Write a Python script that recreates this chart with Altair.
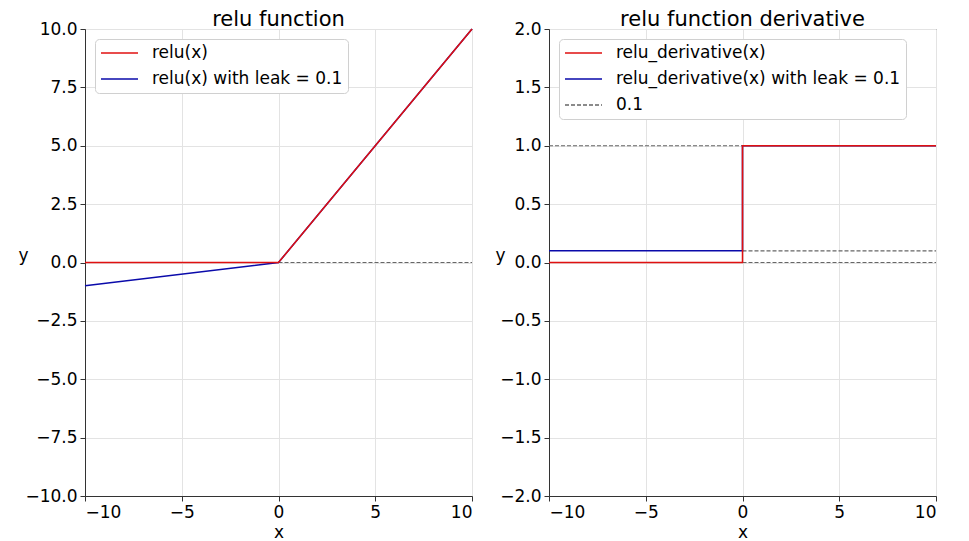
import altair as alt
import pandas as pd

# ---- data ----
x_pts = [-10, 0, 10]
relu_y = [0, 0, 10]
leaky_y = [-1, 0, 10]

dx_pts = [-10, 0, 0, 10]
drelu_y = [0, 0, 1, 1]
dleaky_y = [0.1, 0.1, 1, 1]

# dashed reference lines: level, x start, x end
left_levels = [0]
left_level_x0 = [0]
left_level_x1 = [10]
right_levels = [1, 0.1, 0]
right_level_x0 = [-10, 0, 0]
right_level_x1 = [0, 10, 10]

left_names = ["relu(x)", "relu(x) with leak = 0.1"]
right_names = ["relu_derivative(x)", "relu_derivative(x) with leak = 0.1", "0.1"]

x_ticks = [-10, -5, 0, 5, 10]
left_y_ticks = [-10, -7.5, -5, -2.5, 0, 2.5, 5, 7.5, 10]
right_y_ticks = [-2, -1.5, -1, -0.5, 0, 0.5, 1, 1.5, 2]

RED = "#e01010"
BLUE = "#0a0aaa"
GRAY = "#666666"
FONT = "DejaVu Sans"
LW = 1.5

W, H = 387, 467


def make_legend():
    return alt.Legend(
        title=None, orient="top-left", offset=10, fillColor="white",
        strokeColor="#d0d0d0", cornerRadius=4, padding=5,
        labelFontSize=17, labelFont=FONT, labelColor="black", labelLimit=500,
        symbolType="stroke", symbolSize=1369, symbolStrokeWidth=1.6,
        clipHeight=18, rowPadding=8, labelOffset=13,
    )


xscale = alt.Scale(domain=[-10, 10], nice=False)
xenc = alt.X("x:Q", scale=xscale,
             axis=alt.Axis(values=x_ticks, format="d", title="x", titlePadding=4))

# ---- left panel ----
left_df = pd.DataFrame(
    [{"x": x, "y": y, "s": left_names[0], "i": k} for k, (x, y) in enumerate(zip(x_pts, relu_y))]
    + [{"x": x, "y": y, "s": left_names[1], "i": k} for k, (x, y) in enumerate(zip(x_pts, leaky_y))]
)
left_rule_df = pd.DataFrame({"y": left_levels, "x": left_level_x0, "x2": left_level_x1})

left_y = alt.Y("y:Q", scale=alt.Scale(domain=[-10, 10], nice=False),
               axis=alt.Axis(values=left_y_ticks, format=".1f", title="y",
                             titleAngle=0, titleX=-62, titleY=H / 2 - 7,
                             titleAlign="center", titleBaseline="middle"))
left_color = alt.Color("s:N", scale=alt.Scale(domain=left_names, range=[RED, BLUE]),
                       legend=make_legend(), sort=left_names)

left_rule = alt.Chart(left_rule_df).mark_rule(
    strokeDash=[4, 2], strokeWidth=1.2, color=GRAY
).encode(x=xenc, x2="x2:Q", y=left_y)

blue_l = alt.Chart(left_df).transform_filter(alt.datum.s == left_names[1]).mark_line(strokeWidth=LW).encode(
    x=xenc, y=left_y, color=left_color, order=alt.Order("i:Q"))
red_l = alt.Chart(left_df).transform_filter(alt.datum.s == left_names[0]).mark_line(strokeWidth=LW).encode(
    x=xenc, y=left_y, color=left_color, order=alt.Order("i:Q"))

left = alt.layer(left_rule, blue_l, red_l).properties(
    width=W, height=H, title="relu function")

# ---- right panel ----
right_df = pd.DataFrame(
    [{"x": x, "y": y, "t": right_names[0], "i": k} for k, (x, y) in enumerate(zip(dx_pts, drelu_y))]
    + [{"x": x, "y": y, "t": right_names[1], "i": k} for k, (x, y) in enumerate(zip(dx_pts, dleaky_y))]
)
rule_df = pd.DataFrame({"y": right_levels, "x": right_level_x0, "x2": right_level_x1,
                        "t": [right_names[2]] * len(right_levels)})

right_y = alt.Y("y:Q", scale=alt.Scale(domain=[-2, 2], nice=False),
                axis=alt.Axis(values=right_y_ticks, format=".1f", title="y",
                              titleAngle=0, titleX=-49, titleY=H / 2 - 7,
                              titleAlign="center", titleBaseline="middle"))
right_color = alt.Color("t:N", scale=alt.Scale(domain=right_names, range=[RED, BLUE, GRAY]),
                        legend=make_legend(), sort=right_names)
right_dash = alt.StrokeDash("t:N", scale=alt.Scale(domain=right_names, range=[[1, 0], [1, 0], [4, 2]]),
                            legend=make_legend(), sort=right_names)

right_rule = alt.Chart(rule_df).mark_rule(strokeWidth=1.2).encode(
    x=xenc, x2="x2:Q", y=right_y, color=right_color, strokeDash=right_dash)
blue_r = alt.Chart(right_df).transform_filter(alt.datum.t == right_names[1]).mark_line(strokeWidth=LW).encode(
    x=xenc, y=right_y, color=right_color, strokeDash=right_dash, order=alt.Order("i:Q"))
red_r = alt.Chart(right_df).transform_filter(alt.datum.t == right_names[0]).mark_line(strokeWidth=LW).encode(
    x=xenc, y=right_y, color=right_color, strokeDash=right_dash, order=alt.Order("i:Q"))

right = alt.layer(right_rule, blue_r, red_r).properties(
    width=W, height=H, title="relu function derivative")

chart = alt.hconcat(left, right, spacing=18).resolve_scale(
    color="independent", strokeDash="independent", y="independent"
).resolve_legend(color="independent", strokeDash="independent").properties(
    padding={"left": 9, "top": 0, "right": 0, "bottom": 0}
).configure(font=FONT).configure_view(
    stroke="#444444", strokeWidth=1
).configure_axis(
    labelFont=FONT, labelFontSize=17, labelColor="black",
    titleFont=FONT, titleFontSize=17, titleFontWeight="normal", titleColor="black",
    domainColor="#333333", tickColor="#333333", tickSize=5, labelPadding=3,
    gridColor="#e3e3e3", gridWidth=1, titlePadding=4,
).configure_title(
    font=FONT, fontSize=21, fontWeight="normal", color="black", offset=-10, frame="group"
)

chart.save("out.html", embed_options={"renderer": "svg", "actions": False})
